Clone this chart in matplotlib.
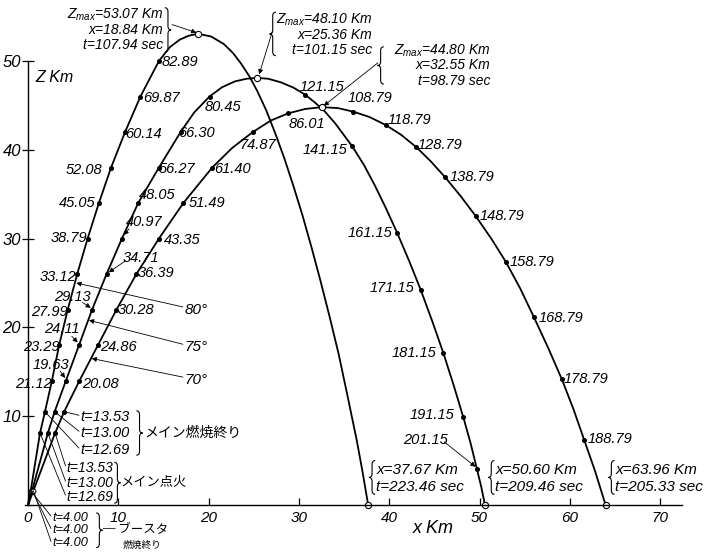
import matplotlib
matplotlib.use('Agg')
import matplotlib.pyplot as plt
from matplotlib.path import Path
from matplotlib.patches import PathPatch

plt.rcParams['font.family'] = ['Liberation Sans', 'DejaVu Sans']
plt.rcParams['mathtext.fontset'] = 'custom'
plt.rcParams['mathtext.it'] = 'Liberation Sans:italic'
plt.rcParams['mathtext.rm'] = 'Liberation Sans:italic'

# ---- trajectories (x km, z km) ----
# 80 deg launch
x80 = [0, 0.30, 1.33, 1.88, 2.65, 3.45, 4.40, 5.45, 6.60, 7.85, 9.20, 10.75, 12.45, 14.50,
       15.70, 16.80, 17.80, 18.84, 20.30, 21.70, 22.70, 23.60, 24.50, 25.40, 26.40, 27.40,
       28.40, 29.40, 30.40, 31.40, 32.40, 33.40, 34.40, 35.40, 36.40, 37.00, 37.67]
z80 = [0, 1.6, 8.1, 10.5, 14.0, 18.0, 22.0, 26.0, 30.0, 34.0, 38.0, 42.0, 46.0, 50.0,
       51.55, 52.4, 52.85, 53.07, 52.75, 51.9, 50.9, 49.7, 48.3, 46.6, 44.4, 41.8,
       39.0, 35.9, 32.6, 29.0, 25.2, 21.2, 17.0, 12.2, 7.3, 4.0, 0]
# 75 deg launch
x75 = [0, 0.45, 2.20, 2.95, 4.20, 5.65, 7.10, 8.70, 10.40, 12.20, 14.50, 16.90, 18.40,
       20.10, 21.50, 22.90, 24.20, 25.36, 26.60, 28.00, 29.40, 30.70, 31.80, 32.80, 34.00,
       35.90, 37.20, 38.40, 39.60, 40.90, 42.20, 43.50, 44.80, 46.00, 47.10, 48.20, 49.00,
       49.70, 50.20, 50.60]
z75 = [0, 1.6, 8.1, 10.5, 14.0, 18.0, 22.0, 26.0, 30.0, 34.0, 38.0, 42.0, 44.2,
       46.0, 47.05, 47.7, 48.0, 48.10, 48.0, 47.6, 47.0, 46.2, 45.3, 44.4, 43.0,
       40.4, 38.3, 36.0, 33.5, 30.6, 27.5, 24.2, 20.6, 17.1, 13.6, 9.9, 7.0,
       4.1, 2.0, 0]
# 70 deg launch
x70 = [0, 0.60, 3.00, 4.00, 5.70, 7.75, 9.80, 12.00, 14.50, 17.20, 20.40, 22.60, 24.90,
       26.90, 28.80, 30.70, 32.55, 34.30, 36.00, 37.80, 39.60, 41.30, 43.00, 44.60, 46.20,
       47.90, 49.60, 51.30, 52.90, 54.50, 56.00, 57.60, 59.10, 60.40, 61.60, 62.80, 63.96]
z70 = [0, 1.6, 8.1, 10.5, 14.0, 18.0, 22.0, 26.0, 30.0, 34.0, 38.0, 40.2, 42.0,
       43.3, 44.1, 44.6, 44.80, 44.7, 44.3, 43.7, 42.8, 41.7, 40.3, 38.7, 36.9,
       34.8, 32.5, 30.0, 27.4, 24.4, 21.2, 17.7, 14.2, 10.8, 7.3, 3.8, 0]

# timed points (sec) and where they sit
t80 = ['21.12', '23.29', '27.99', '33.12', '38.79', '45.05', '52.08', '60.14', '69.87', '82.89']
xt80 = [2.65, 3.45, 4.40, 5.45, 6.60, 7.85, 9.20, 10.75, 12.45, 14.50]
zt80 = [14, 18, 22, 26, 30, 34, 38, 42, 46, 50]

t75 = ['19.63', '24.11', '29.13', '34.71', '40.97', '48.05', '56.27', '66.30', '80.45',
       '121.15', '141.15', '161.15', '171.15', '181.15', '191.15', '201.15']
xt75 = [4.20, 5.65, 7.10, 8.70, 10.40, 12.20, 14.50, 16.90, 20.10,
        30.70, 35.90, 40.90, 43.50, 46.00, 48.20, 49.70]
zt75 = [14, 18, 22, 26, 30, 34, 38, 42, 46.0, 46.2, 40.4, 30.6, 24.2, 17.1, 9.9, 4.1]

t70 = ['20.08', '24.86', '30.28', '36.39', '43.35', '51.49', '61.40', '74.87', '86.01',
       '108.79', '118.79', '128.79', '138.79', '148.79', '158.79', '168.79', '178.79', '188.79']
xt70 = [5.70, 7.75, 9.80, 12.00, 14.50, 17.20, 20.40, 24.90, 28.80,
        36.00, 39.60, 43.00, 46.20, 49.60, 52.90, 56.00, 59.10, 61.60]
zt70 = [14, 18, 22, 26, 30, 34, 38, 42, 44.1, 44.3, 42.8, 40.3, 36.9, 32.5, 27.4, 21.2, 14.2, 7.3]

# booster burnout / main ignition / main burnout points (80, 75, 70 deg)
x_boost = [0.30, 0.45, 0.60]
z_boost = [1.6, 1.6, 1.6]
x_ign = [1.33, 2.20, 3.00]
z_ign = [8.1, 8.1, 8.1]
x_mend = [1.88, 2.95, 4.00]
z_mend = [10.5, 10.5, 10.5]

# apex and impact values
zmax = [53.07, 48.10, 44.80]
x_at_zmax = [18.84, 25.36, 32.55]
t_at_zmax = [107.94, 101.15, 98.79]
x_land = [37.67, 50.60, 63.96]
t_land = [223.46, 209.46, 205.33]

# label placement (text centres, data units)
pos80 = [(0.55, 13.6), (1.44, 17.8), (2.33, 21.7), (3.32, 25.7), (4.54, 30.1), (5.43, 34.0),
         (6.20, 37.7), (12.75, 41.8), (14.75, 45.8), (16.80, 49.9)]
pos75 = [(2.55, 15.8), (3.77, 19.8), (4.87, 23.4), (12.51, 27.8), (12.85, 31.9), (14.29, 34.9),
         (16.50, 37.8), (18.70, 41.9), (21.60, 44.8), (32.56, 47.1), (32.89, 40.0), (37.87, 30.6),
         (40.31, 24.4), (42.75, 17.1), (44.74, 10.1), (43.96, 7.3)]
pos70 = [(7.97, 13.6), (9.97, 17.8), (11.96, 22.0), (14.17, 26.1), (17.05, 29.8), (19.82, 34.0),
         (22.60, 37.8), (25.47, 40.5), (30.90, 42.9), (37.87, 45.8), (42.19, 43.4), (45.63, 40.5),
         (49.17, 36.9), (52.49, 32.5), (55.81, 27.4), (59.03, 21.1), (61.79, 14.2), (64.45, 7.4)]

ITAL = dict(style='italic', color='k')
JP = ['Noto Sans CJK JP', 'DejaVu Sans']


def brace(ax, x, z0, z1, w, side):
    # curly brace between z0 and z1, tip pointing to side (+1 right, -1 left)
    xm = x + side * w * 0.5
    xt = x + side * w
    zm = (z0 + z1) / 2
    d = 0.45
    verts = [(x, z1), (xm, z1), (xm, z1 - d), (xm, zm + d), (xm, zm), (xt, zm),
             (xm, zm), (xm, zm - d), (xm, z0 + d), (xm, z0), (x, z0)]
    codes = [Path.MOVETO, Path.CURVE3, Path.CURVE3, Path.LINETO, Path.CURVE3, Path.CURVE3,
             Path.CURVE3, Path.CURVE3, Path.LINETO, Path.CURVE3, Path.CURVE3]
    ax.add_patch(PathPatch(Path(verts, codes), fill=False, lw=0.8, color='k'))


def arrow(ax, start, end, head=True):
    ax.annotate('', xy=end, xytext=start,
                arrowprops=dict(arrowstyle='-|>' if head else '-', lw=0.6, color='k',
                                mutation_scale=7, shrinkA=0, shrinkB=0))


fig = plt.figure(figsize=(7.2, 5.53), dpi=100)
ax = fig.add_axes([0, 0, 1, 1])
ax.set_xlim(-3.10, 76.63)
ax.set_ylim(-5.41, 56.87)

for xs, zs in [(x80, z80), (x75, z75), (x70, z70)]:
    ax.plot(xs, zs, color='k', lw=1.3, solid_capstyle='round', solid_joinstyle='round')

for xs, zs in [(xt80, zt80), (xt75, zt75), (xt70, zt70), (x_ign, z_ign), (x_mend, z_mend)]:
    ax.plot(xs, zs, 'o', color='k', ms=2.6, ls='none')

ax.plot(x_boost, z_boost, 'o', mfc='white', mec='k', ms=3.5, mew=0.7, ls='none')
ax.plot(x_at_zmax, zmax, 'o', mfc='white', mec='k', ms=4.5, mew=0.8, ls='none')
ax.plot(x_land, [0, 0, 0], 'o', mfc='white', mec='k', ms=4.5, mew=0.8, ls='none')

# time labels
for labels, pos in [(t80, pos80), (t75, pos75), (t70, pos70)]:
    for lab, (px, pz) in zip(labels, pos):
        ax.text(px, pz, lab, ha='center', va='center', fontsize=10.5, **ITAL)

# little arrows from some labels to their points
arrow(ax, (3.55, 15.1), (4.10, 14.3))
arrow(ax, (4.85, 19.0), (5.50, 18.3))
arrow(ax, (6.05, 22.8), (6.95, 22.2))
arrow(ax, (10.80, 27.5), (8.95, 26.2))
arrow(ax, (11.20, 31.1), (10.60, 30.4))
arrow(ax, (46.10, 7.1), (49.55, 4.3))

# angle labels
for ang, zl, end in [('80°', 22.0, (5.35, 25.0)), ('75°', 17.8, (6.75, 20.8)),
                     ('70°', 14.1, (7.05, 16.5))]:
    ax.text(17.35, zl, ang, ha='left', va='center', fontsize=11, **ITAL)
    arrow(ax, (17.15, zl + 0.3), end)

# apex notes
apex_right = [14.95, 38.10, 51.20]
apex_top = [55.2, 54.6, 51.2]
for i in range(3):
    lines = [r'$Z_{max}$' + '={:.2f} Km'.format(zmax[i]),
             'x={:.2f} Km'.format(x_at_zmax[i]),
             't={:.2f} sec'.format(t_at_zmax[i])]
    for k, s in enumerate(lines):
        ax.text(apex_right[i], apex_top[i] - 1.7 * k, s, ha='right', va='center',
                fontsize=10, **ITAL)
brace(ax, 15.15, 51.0, 56.0, 0.7, 1)
arrow(ax, (15.95, 54.1), (18.65, 53.2))
brace(ax, 27.45, 50.6, 55.5, 0.7, -1)
arrow(ax, (27.05, 53.3), (25.60, 48.5))
brace(ax, 39.40, 47.4, 51.6, 0.7, -1)
arrow(ax, (38.75, 49.8), (32.75, 44.95))

# impact notes
land_left = [38.55, 51.75, 65.05]
for i in range(3):
    brace(ax, land_left[i] - 0.1, 1.2, 5.0, 0.7, -1)
    ax.text(land_left[i], 3.95, 'x={:.2f} Km'.format(x_land[i]), ha='left', va='center',
            fontsize=11, **ITAL)
    ax.text(land_left[i], 2.0, 't={:.2f} sec'.format(t_land[i]), ha='left', va='center',
            fontsize=11, **ITAL)

# launch phase notes
for k, (s, zl) in enumerate([('t=13.53', 9.9), ('t=13.00', 8.1), ('t=12.69', 6.2)]):
    ax.text(5.75, zl, s, ha='left', va='center', fontsize=10.5, **ITAL)
    arrow(ax, (5.65, zl + 0.2), (x_mend[2 - k], z_mend[2 - k]), head=False)
brace(ax, 12.0, 5.6, 10.6, 0.7, 1)
ax.text(12.85, 8.1, 'メイン燃焼終り', ha='left', va='center', fontsize=10, family=JP)

for k, (s, zl) in enumerate([('t=13.53', 4.2), ('t=13.00', 2.5), ('t=12.69', 0.9)]):
    ax.text(4.25, zl, s, ha='left', va='center', fontsize=10, **ITAL)
    arrow(ax, (4.15, zl + 0.2), (x_ign[2 - k], z_ign[2 - k]), head=False)
brace(ax, 9.55, 0.2, 4.8, 0.7, 1)
ax.text(10.25, 2.6, 'メイン点火', ha='left', va='center', fontsize=9.5, family=JP)

for k, (s, zl) in enumerate([('t=4.00', -1.45), ('t=4.00', -2.85), ('t=4.00', -4.3)]):
    ax.text(2.65, zl, s, ha='left', va='center', fontsize=9.2, **ITAL)
    arrow(ax, (2.55, zl + 0.2), (x_boost[k], z_boost[k]), head=False)
brace(ax, 7.55, -4.8, -0.9, 0.7, 1)
ax.text(8.35, -2.8, '─ ブースタ', ha='left', va='center', fontsize=9, family=JP)
ax.text(10.5, -4.55, '燃焼終り', ha='left', va='center', fontsize=7, family=JP)

# axes
for side in ['top', 'right']:
    ax.spines[side].set_visible(False)
ax.spines['left'].set_position(('data', 0))
ax.spines['bottom'].set_position(('data', 0))
ax.spines['left'].set_bounds(0, 50)
ax.spines['bottom'].set_bounds(-0.3, 72.4)
ax.spines['left'].set_linewidth(1.0)
ax.spines['bottom'].set_linewidth(1.0)

ax.set_xticks([0, 10, 20, 30, 40, 50, 60, 70])
ax.set_xticklabels(['0', '10', '20', '30', '40', '50', '60', '70'], fontsize=11, style='italic')
ax.set_yticks([10, 20, 30, 40, 50])
ax.set_yticklabels(['10', '20', '30', '40', '50'], fontsize=12, style='italic')
ax.tick_params(axis='x', direction='in', length=5, width=0.9, pad=4)
ax.tick_params(axis='y', direction='inout', length=8, width=0.9, pad=1)

ax.text(0.80, 48.1, 'Z Km', ha='left', va='center', fontsize=11.5, **ITAL)
ax.text(42.6, -2.6, 'x Km', ha='left', va='center', fontsize=13, **ITAL)

fig.savefig('out.png', dpi=100, facecolor='white')
